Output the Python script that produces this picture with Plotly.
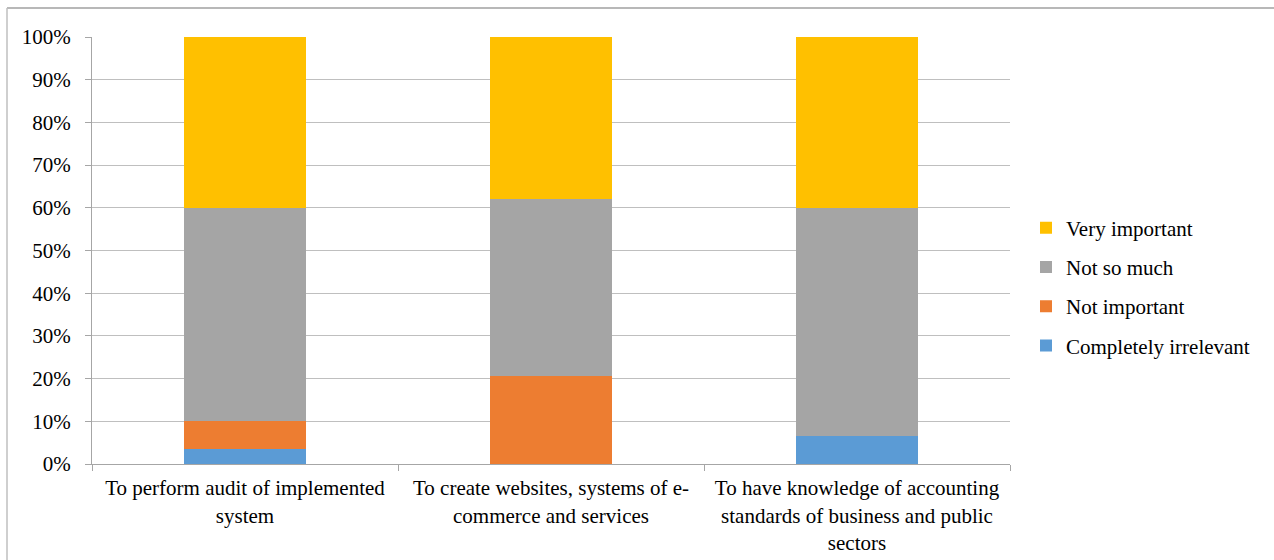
import plotly.graph_objects as go

categories = [
    "To perform audit of implemented<br>system",
    "To create websites, systems of e-<br>commerce and services",
    "To have knowledge of accounting<br>standards of business and public<br>sectors",
]
completely_irrelevant = [3.4, 0.0, 6.5]
not_important = [6.6, 20.5, 0.0]
not_so_much = [50.0, 41.5, 53.5]
very_important = [40.0, 38.0, 40.0]

y_ticks = [0, 10, 20, 30, 40, 50, 60, 70, 80, 90, 100]
y_tick_labels = [f"{v}%" for v in y_ticks]

series = [
    ("Completely irrelevant", completely_irrelevant, "#5B9BD5"),
    ("Not important", not_important, "#ED7D31"),
    ("Not so much", not_so_much, "#A5A5A5"),
    ("Very important", very_important, "#FFC000"),
]

FONT = "Liberation Serif, Times New Roman, serif"
FS = 21

fig = go.Figure()
n = len(series)
for i, (name, vals, color) in enumerate(series):
    fig.add_trace(go.Bar(
        x=categories, y=vals, name=name, marker=dict(color=color, line=dict(width=0)),
        width=0.4, legendgroup=f"g{i}", legendrank=n - i, hoverinfo="x+y+name",
    ))

L, R, T, B = 92, 1010, 37, 464
W, H = 1274, 560

def px(x):
    return (x - L) / (R - L)

def py(y):
    return (B - y) / (B - T)

fig.update_layout(
    width=W, height=H,
    barmode="stack",
    margin=dict(l=L, r=W - R, t=T, b=H - B, pad=0, autoexpand=False),
    paper_bgcolor="white", plot_bgcolor="white",
    font=dict(family=FONT, size=FS, color="#000000"),
    showlegend=True,
    legend=dict(
        x=px(1026), y=py(287), xanchor="left", yanchor="middle",
        traceorder="grouped", tracegroupgap=9,
        font=dict(family=FONT, size=FS, color="#000000"),
        bgcolor="rgba(0,0,0,0)",
    ),
    xaxis=dict(
        showgrid=False, showline=True, linecolor="#A6A6A6", linewidth=1,
        ticks="outside", tickson="boundaries", ticklen=6, tickcolor="#A6A6A6",
        tickfont=dict(family=FONT, size=FS, color="#000000"),
        ticklabelstandoff=5, automargin=False,
        fixedrange=True,
    ),
    yaxis=dict(
        range=[0, 100], tickmode="array", tickvals=y_ticks, ticktext=y_tick_labels,
        showgrid=True, gridcolor="#BFBFBF", gridwidth=1,
        showline=True, linecolor="#A6A6A6", linewidth=1,
        ticks="outside", ticklen=6, tickcolor="#A6A6A6",
        zeroline=False,
        tickfont=dict(family=FONT, size=FS, color="#000000"),
        ticklabelstandoff=10, automargin=False,
        fixedrange=True,
    ),
    shapes=[
        dict(type="line", xref="paper", yref="paper", x0=px(7), x1=px(1274), y0=py(8), y1=py(8),
             line=dict(color="#A0A0A0", width=1.5)),
        dict(type="line", xref="paper", yref="paper", x0=px(7), x1=px(7), y0=py(8), y1=py(560),
             line=dict(color="#BFBFBF", width=1.5)),
    ],
)

fig.write_html("out.html", include_plotlyjs=True, config={"displayModeBar": False})
